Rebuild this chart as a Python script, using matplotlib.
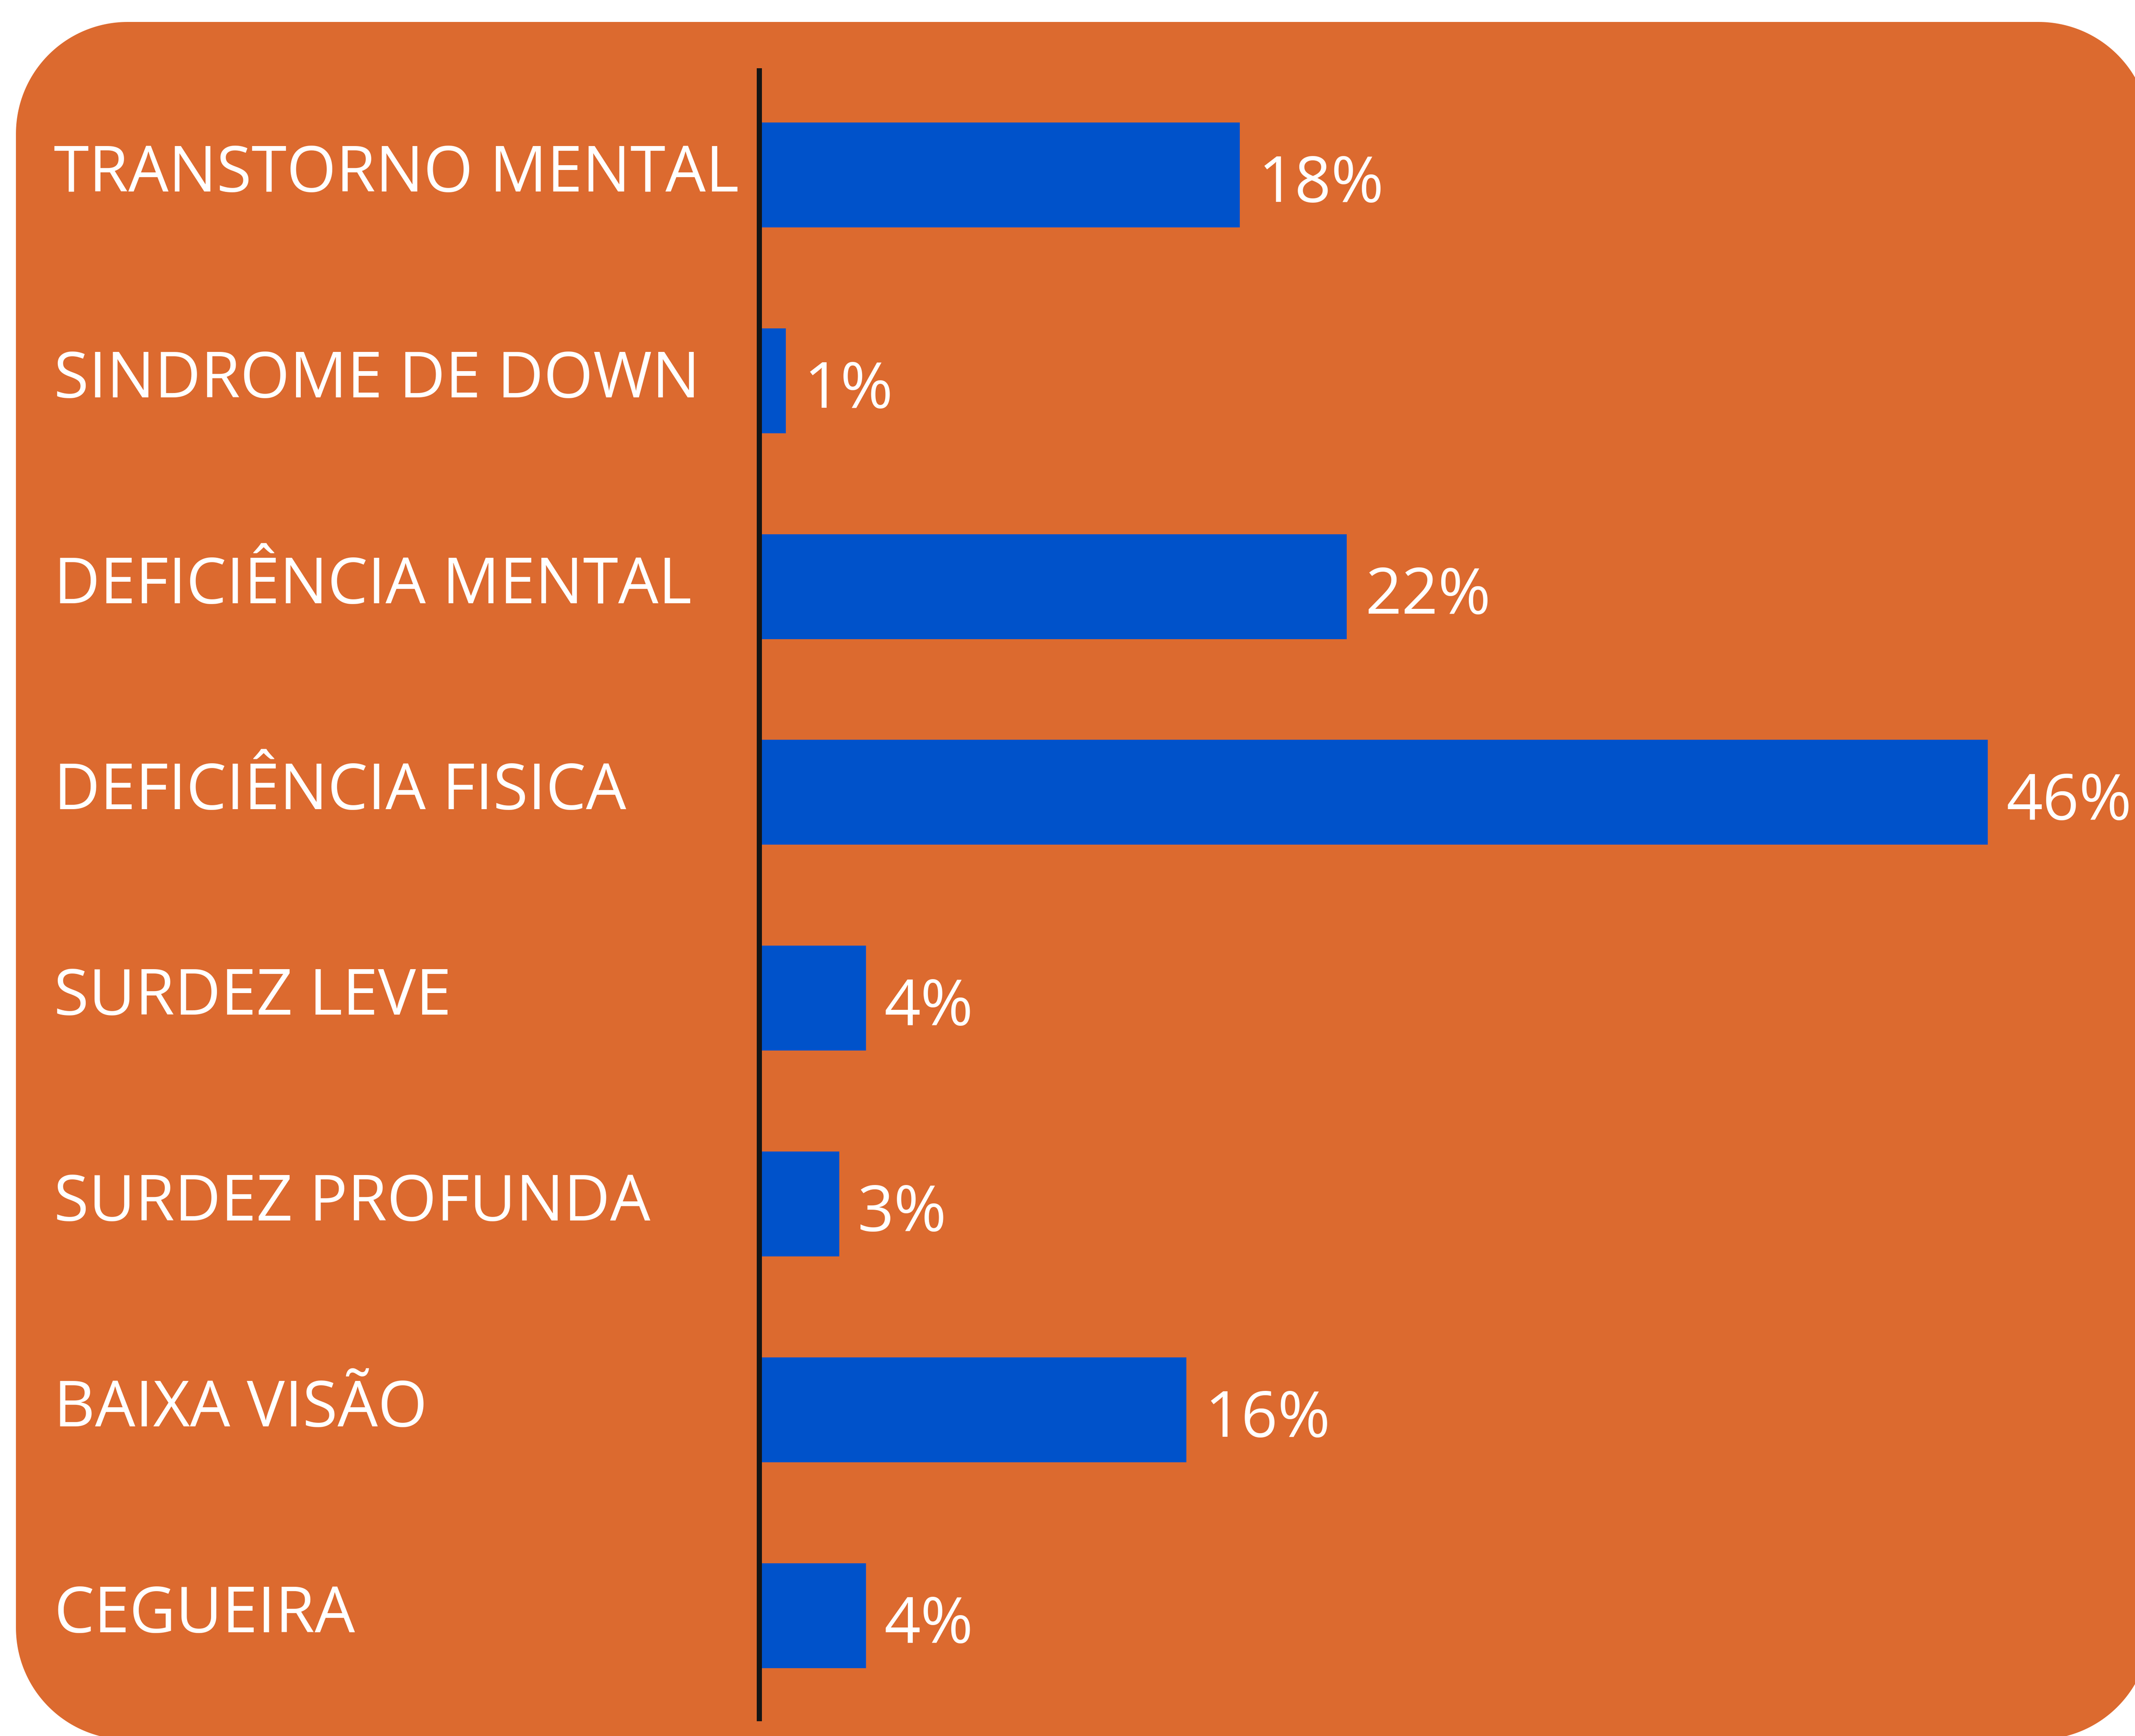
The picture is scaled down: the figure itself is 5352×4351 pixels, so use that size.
import matplotlib
matplotlib.use("Agg")
import numpy as np
import matplotlib.pyplot as plt
from matplotlib.patches import Polygon
from matplotlib.transforms import IdentityTransform

categories = ["TRANSTORNO MENTAL", "SINDROME DE DOWN", "DEFICIÊNCIA MENTAL",
              "DEFICIÊNCIA FISICA", "SURDEZ LEVE", "SURDEZ PROFUNDA",
              "BAIXA VISÃO", "CEGUEIRA"]
values = [18, 1, 22, 46, 4, 3, 16, 4]
value_labels = ["18%", "1%", "22%", "46%", "4%", "3%", "16%", "4%"]

ORANGE = "#DC6A2F"
BLUE = "#0052CA"
W, H = 5352, 4351
DPI = 100

plt.rcParams['font.family'] = ['Open Sans', 'DejaVu Sans']

fig = plt.figure(figsize=(W / DPI, H / DPI), dpi=DPI)
fig.patch.set_facecolor("white")


def rounded_rect(x0, y0, x1, y1, r, n=60):
    pts = []
    corners = [(x1 - r, y1 - r, 0), (x0 + r, y1 - r, 90),
               (x0 + r, y0 + r, 180), (x1 - r, y0 + r, 270)]
    for cx, cy, a0 in corners:
        t = np.radians(np.linspace(a0, a0 + 90, n))
        pts.extend(zip(cx + r * np.cos(t), cy + r * np.sin(t)))
    return np.array(pts)


# rounded orange background panel (pixel coordinates, origin bottom-left)
left, top, right, bottom = 40, 55, 5390, 4360
verts = rounded_rect(left, H - bottom, right, H - top, 280)
bg = Polygon(verts, closed=True, transform=IdentityTransform(),
             facecolor=ORANGE, edgecolor="none", zorder=-5)
fig.add_artist(bg)

AX_X = 1903
ax_left = AX_X / W
ax_bottom = 1 - 4307 / H
ax_top = 1 - 177 / H
ax = fig.add_axes([ax_left, ax_bottom, 1 - ax_left, ax_top - ax_bottom])
ax.set_zorder(2)
ax.set_facecolor("none")

ypos = list(range(len(categories)))
ax.barh(ypos, values, height=0.51, color=BLUE, zorder=2)
ax.set_xlim(0, (W - AX_X) / 66.96)
ax.set_ylim(7.5, -0.507)

for s in ["top", "right", "bottom"]:
    ax.spines[s].set_visible(False)
ax.spines["left"].set_color("#151515")
ax.spines["left"].set_linewidth(13 * 72 / DPI)
ax.spines["left"].set_zorder(3)
ax.set_xticks([])

fs = 115
ax.set_yticks(ypos)
ax.set_yticklabels(categories, ha="left", fontsize=fs, color="white")
ax.tick_params(axis="y", length=0, pad=(AX_X - 135) * 72 / DPI)
for lbl in ax.get_yticklabels():
    lbl.set_va("center")

for y, v, t in zip(ypos, values, value_labels):
    ax.annotate(t, xy=(v, y), xytext=(46 * 72 / DPI, -26 * 72 / DPI),
                textcoords="offset points",
                ha="left", va="center", fontsize=fs, color="white", zorder=4,
                annotation_clip=False)

fig.savefig("out.png", dpi=DPI, facecolor=fig.get_facecolor())
